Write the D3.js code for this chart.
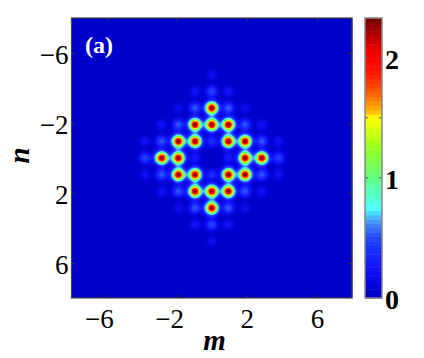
<!DOCTYPE html>
<html>
<head>
<meta charset="utf-8">
<script src="https://cdn.jsdelivr.net/npm/d3@7/dist/d3.min.js"></script>
<style>
    html, body { margin: 0; padding: 0; background: #fff; }
    text { font-family: "Liberation Serif", "Times New Roman", serif; fill: #000; }
</style>
</head>
<body>
<svg id="chart" width="424" height="358"></svg>
<script>
'use strict';

//Site amplitudes, rows are n, columns are m
var nValues = [-5, -4, -3, -2, -1, 0, 1, 2, 3, 4, 5];
var mValues = [-5, -4, -3, -2, -1, 0, 1, 2, 3, 4, 5];
var amplitudes = [
    [0, 0, 0, 0, 0, 0.2, 0, 0, 0, 0, 0],
    [0, 0, 0, 0, 0.26, 0.5, 0.26, 0, 0, 0, 0],
    [0, 0, 0, 0.2, 0.55, 2.33, 0.55, 0.2, 0, 0, 0],
    [0, 0, 0.24, 0.55, 2.33, 2.33, 2.33, 0.55, 0.24, 0, 0],
    [0, 0.24, 0.55, 2.33, 2.33, 0.4, 2.33, 2.33, 0.55, 0.24, 0],
    [0, 0.5, 2.33, 2.33, 0.3, 0, 0.3, 2.33, 2.33, 0.5, 0],
    [0, 0.24, 0.55, 2.33, 2.33, 0.4, 2.33, 2.33, 0.55, 0.24, 0],
    [0, 0, 0.24, 0.55, 2.33, 2.33, 2.33, 0.55, 0.24, 0, 0],
    [0, 0, 0, 0.2, 0.55, 2.33, 0.55, 0.2, 0, 0, 0],
    [0, 0, 0, 0, 0.26, 0.5, 0.26, 0, 0, 0, 0],
    [0, 0, 0, 0, 0, 0.2, 0, 0, 0, 0, 0]
];

var axisTicks = [-6, -2, 2, 6];
var colorbarLabels = [0, 1, 2];
var colorbarTicks = [0.5, 1, 1.5, 2];
var colorStops = [0, 0.06, 0.25, 0.5, 0.62, 0.75, 1, 1.25, 1.5, 1.55, 1.7, 1.85, 2, 2.1, 2.33];
var colorValues = ['#0000cc', '#0000cc', '#1111ff', '#2244ff', '#4488ff', '#50ffff', '#60ff80', '#98ff20', '#ffff00',
    '#ffc000', '#ff6000', '#ff2000', '#ff0000', '#e00000', '#700000'];

const LEFT = 71.5, RIGHT = 352, TOP = 18, BOTTOM = 298,
    BAR_LEFT = 365, BAR_RIGHT = 382,
    VALUE_MAX = 2.33,
    COLOR_STEPS = 64,
    LATTICE_PITCH = 0.952, //the sites sit a little tighter than the axis units
    SPOT_SIGMA = 4.2;

var svg = d3.select('#chart');

var x = d3.scaleLinear().domain([-8, 8]).range([LEFT, RIGHT]);
var y = d3.scaleLinear().domain([-8, 8]).range([TOP, BOTTOM]);
var barY = d3.scaleLinear().domain([0, VALUE_MAX]).range([BOTTOM, TOP]);

var jet = d3.scaleLinear().domain(colorStops).range(colorValues).clamp(true);
var color = d3.scaleQuantize()
    .domain([0, VALUE_MAX])
    .range(d3.range(COLOR_STEPS).map(function (i) {
        return jet((i + 0.5) / COLOR_STEPS * VALUE_MAX);
    }));

//Flatten the table to the sites that have something on them
var sites = [];
nValues.forEach(function (n, row) {
    mValues.forEach(function (m, col) {
        if (amplitudes[row][col] > 0) {
            sites.push({
                cx: x(m * LATTICE_PITCH),
                cy: y(n * LATTICE_PITCH),
                amp: amplitudes[row][col]
            });
        }
    });
});

//Paint the field off screen and place it as an image
var imgW = Math.round(RIGHT - LEFT),
    imgH = BOTTOM - TOP,
    canvas = document.createElement('canvas');
canvas.width = imgW;
canvas.height = imgH;
var ctx = canvas.getContext('2d');
for (let py = 0; py < imgH; py++) {
    for (let px = 0; px < imgW; px++) {
        let val = 0;
        for (let s of sites) {
            let dx = LEFT + px + 0.5 - s.cx,
                dy = TOP + py + 0.5 - s.cy;
            val += s.amp * Math.exp(-(dx * dx + dy * dy) / (2 * SPOT_SIGMA * SPOT_SIGMA));
        }
        ctx.fillStyle = color(Math.min(val, VALUE_MAX));
        ctx.fillRect(px, py, 1, 1);
    }
}

svg.append('image')
    .attr('x', LEFT)
    .attr('y', TOP)
    .attr('width', imgW)
    .attr('height', imgH)
    .attr('href', canvas.toDataURL());

//Ticks point inward on all four sides
function addFrameTicks(axis, translate) {
    var g = svg.append('g').attr('transform', translate).call(axis);
    g.select('.domain').remove();
    g.selectAll('.tick line').attr('stroke', '#333').attr('stroke-width', 1);
    return g;
}

var bottomAxis = addFrameTicks(d3.axisBottom(x).tickValues(axisTicks).tickSize(-3), 'translate(0,' + BOTTOM + ')');
addFrameTicks(d3.axisTop(x).tickValues(axisTicks).tickSize(-3).tickFormat(''), 'translate(0,' + TOP + ')');
var leftAxis = addFrameTicks(d3.axisLeft(y).tickValues(axisTicks).tickSize(-3).tickPadding(3), 'translate(' + LEFT + ',0)');
addFrameTicks(d3.axisRight(y).tickValues(axisTicks).tickSize(-3).tickFormat(''), 'translate(' + RIGHT + ',0)');

//Digits stay centred on the tick, the minus hangs out to the left
bottomAxis.selectAll('.tick text')
    .attr('text-anchor', 'end')
    .attr('x', 6.7)
    .attr('y', 30)
    .attr('dy', 0)
    .style('font-size', '27px')
    .style('font-family', '"Liberation Serif", serif');

leftAxis.selectAll('.tick text')
    .attr('dy', '0.37em')
    .style('font-size', '27px')
    .style('font-family', '"Liberation Serif", serif');

svg.append('rect')
    .attr('x', LEFT)
    .attr('y', TOP)
    .attr('width', RIGHT - LEFT)
    .attr('height', BOTTOM - TOP)
    .attr('fill', 'none')
    .attr('stroke', '#444')
    .attr('stroke-width', 1.2);

svg.append('text')
    .attr('x', 85)
    .attr('y', 53)
    .style('fill', '#fff')
    .style('font-size', '24px')
    .style('font-weight', 'bold')
    .text('(a)');

svg.append('text')
    .attr('x', 214.5)
    .attr('y', 350)
    .attr('text-anchor', 'middle')
    .style('font-size', '29px')
    .style('font-weight', 'bold')
    .style('font-style', 'italic')
    .text('m');

svg.append('text')
    .attr('transform', 'translate(29,155.5) rotate(-90)')
    .attr('text-anchor', 'middle')
    .style('font-size', '29px')
    .style('font-weight', 'bold')
    .style('font-style', 'italic')
    .text('n');

//Colour bar
var bands = d3.range(COLOR_STEPS).map(function (i) {
    return i / COLOR_STEPS * VALUE_MAX;
});
var bandHeight = (BOTTOM - TOP) / COLOR_STEPS;

svg.append('g')
    .selectAll('rect')
    .data(bands)
    .enter()
    .append('rect')
    .attr('x', BAR_LEFT)
    .attr('width', BAR_RIGHT - BAR_LEFT)
    .attr('y', function (d) { return barY(d) - bandHeight; })
    .attr('height', bandHeight + 0.5)
    .attr('fill', function (d) { return color(d + 0.001); });

svg.append('g')
    .selectAll('g')
    .data(colorbarTicks)
    .enter()
    .append('g')
    .each(function (d) {
        d3.select(this).selectAll('line')
            .data([[BAR_LEFT, BAR_LEFT + 3], [BAR_RIGHT - 3, BAR_RIGHT]])
            .enter()
            .append('line')
            .attr('x1', function (e) { return e[0]; })
            .attr('x2', function (e) { return e[1]; })
            .attr('y1', barY(d))
            .attr('y2', barY(d))
            .attr('stroke', '#555');
    });

svg.append('rect')
    .attr('x', BAR_LEFT)
    .attr('y', TOP)
    .attr('width', BAR_RIGHT - BAR_LEFT)
    .attr('height', BOTTOM - TOP)
    .attr('fill', 'none')
    .attr('stroke', '#888')
    .attr('stroke-width', 1.5);

svg.append('g')
    .selectAll('text')
    .data(colorbarLabels)
    .enter()
    .append('text')
    .attr('x', 385)
    .attr('y', function (d) { return barY(d) + 11; })
    .style('font-size', '28px')
    .style('font-weight', 'bold')
    .text(function (d) { return d; });
</script>
</body>
</html>
